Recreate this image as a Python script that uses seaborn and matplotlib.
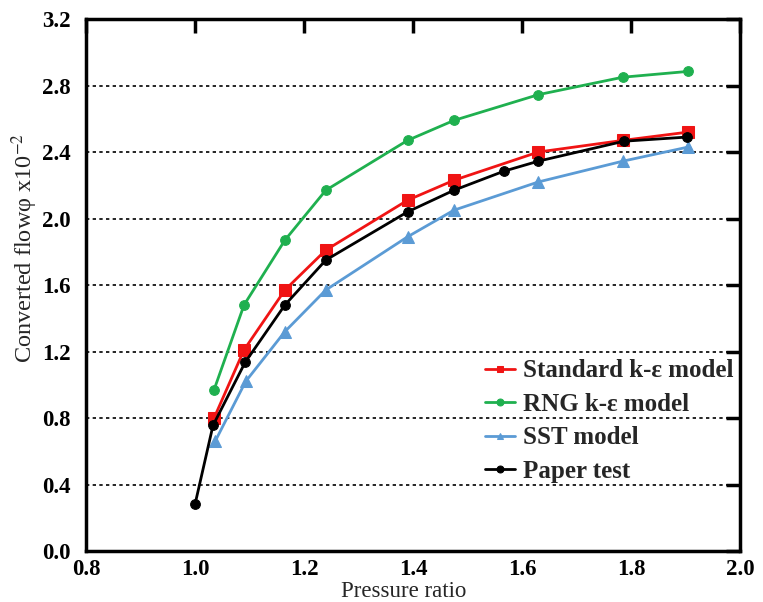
import matplotlib
matplotlib.use("Agg")
import matplotlib.pyplot as plt
import seaborn as sns
import pandas as pd
import numpy as np

# Data
std_x = [1.035, 1.09, 1.165, 1.24, 1.39, 1.475, 1.63, 1.785, 1.905]
std_y = [0.80, 1.21, 1.57, 1.81, 2.11, 2.23, 2.40, 2.47, 2.52]

rng_x = [1.035, 1.09, 1.165, 1.24, 1.39, 1.475, 1.63, 1.785, 1.905]
rng_y = [0.97, 1.48, 1.87, 2.17, 2.47, 2.59, 2.745, 2.85, 2.885]

sst_x = [1.037, 1.093, 1.165, 1.24, 1.39, 1.475, 1.63, 1.785, 1.905]
sst_y = [0.66, 1.02, 1.32, 1.57, 1.89, 2.05, 2.22, 2.345, 2.43]

pap_x = [1.0, 1.033, 1.092, 1.165, 1.24, 1.39, 1.475, 1.567, 1.63, 1.787, 1.903]
pap_y = [0.28, 0.755, 1.135, 1.48, 1.75, 2.04, 2.17, 2.285, 2.345, 2.465, 2.49]

series_names = ["Standard k-ε model", "RNG k-ε model", "SST model", "Paper test"]
series_colors = ["#f01414", "#1fb04f", "#5b9bd5", "#000000"]
series_markers = ["s", "o", "^", "o"]

x_ticks = [0.8, 1.0, 1.2, 1.4, 1.6, 1.8, 2.0]
y_ticks = [0.0, 0.4, 0.8, 1.2, 1.6, 2.0, 2.4, 2.8, 3.2]

sns.set_theme(style="white")
plt.rcParams["font.family"] = ["Liberation Serif", "DejaVu Serif"]
plt.rcParams["mathtext.fontset"] = "stix"

fig = plt.figure(figsize=(7.63, 6.02), dpi=100)
ax = fig.add_axes([0.1127, 0.0847, 0.8572, 0.8837])

frames = []
for name, xs, ys in zip(series_names, [std_x, rng_x, sst_x, pap_x], [std_y, rng_y, sst_y, pap_y]):
    frames.append(pd.DataFrame({"x": xs, "y": ys, "series": name}))
df = pd.concat(frames, ignore_index=True)

for name, color, marker in zip(series_names, series_colors, series_markers):
    sub = df[df["series"] == name]
    ms = 8 if marker in ("s", "^") else 7
    sns.lineplot(data=sub, x="x", y="y", ax=ax, color=color, marker=marker,
                 markersize=ms, linewidth=2, markeredgecolor=color,
                 label=name, sort=False)

ax.set_xlim(0.8, 2.0)
ax.set_ylim(0.0, 3.2)
ax.set_xticks(x_ticks)
ax.set_yticks(y_ticks)
ax.set_xticklabels([f"{v:.1f}" for v in x_ticks], fontweight="bold", fontsize=16.5)
ax.set_yticklabels([f"{v:.1f}" for v in y_ticks], fontweight="bold", fontsize=16.5)

for yv in y_ticks[1:-1]:
    ax.axhline(yv, color="black", linestyle=(0, (2, 2)), linewidth=1.2, zorder=0)

ax.tick_params(axis="both", direction="in", length=10, width=2.5,
               top=True, right=True, colors="black")
ax.tick_params(axis="x", pad=6)
ax.tick_params(axis="y", pad=11)
for s in ax.spines.values():
    s.set_linewidth(2.5)
    s.set_color("black")

ax.set_xlabel("Pressure ratio", fontsize=16.5, va="baseline")
ax.set_ylabel("Converted flowφ x10$^{-2}$", fontsize=17.5)
ax.xaxis.set_label_coords(0.485, -0.086)
ax.yaxis.set_label_coords(-0.07, 0.57)

leg = ax.legend(loc="upper left", bbox_to_anchor=(0.61, 0.36), frameon=False,
                prop={"weight": "bold", "size": 18, "family": "Liberation Serif"},
                handlelength=1.2, handletextpad=0.32, labelspacing=0.42,
                borderaxespad=0.0, borderpad=0.0)
for h in leg.legend_handles:
    h.set_markersize(5)

fig.savefig("out.png", dpi=100)
